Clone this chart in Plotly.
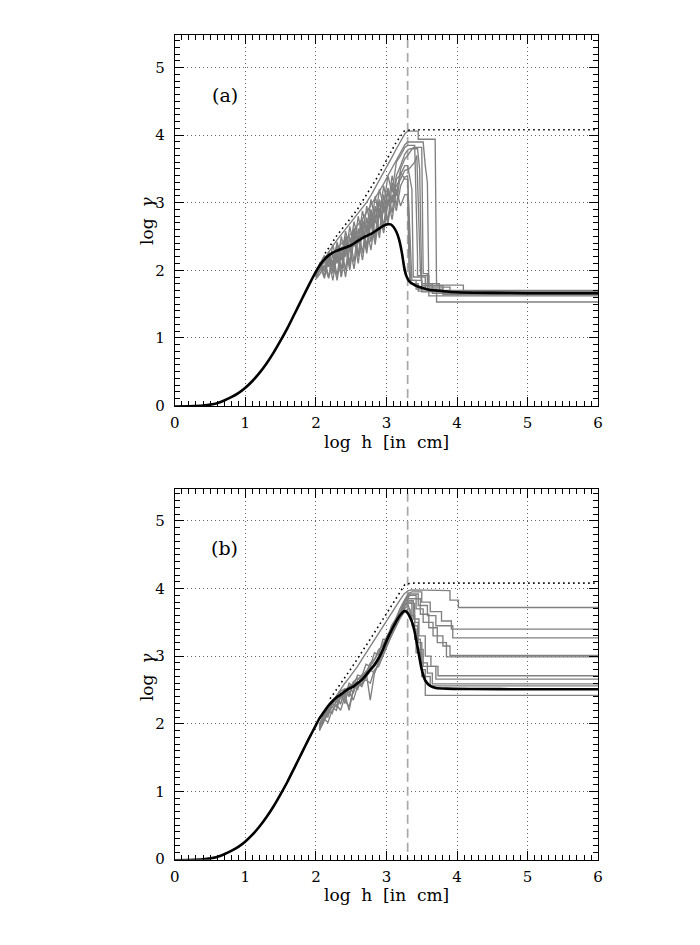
import plotly.graph_objects as go

# ---------------- data ----------------
# common low part of the thick black curve (both panels)
x_low = [0.0, 0.2, 0.4, 0.6, 0.7, 0.8, 0.9, 1.0, 1.1, 1.2, 1.3, 1.4, 1.5, 1.6, 1.7, 1.8, 1.9]
y_low = [-0.02, -0.015, -0.005, 0.03, 0.07, 0.12, 0.18, 0.26, 0.36, 0.48, 0.62, 0.78, 0.96, 1.15, 1.36, 1.57, 1.78]

# panel (a) black curve (continuation)
xa_black = [2.0, 2.06, 2.12, 2.18, 2.24, 2.30, 2.40, 2.50, 2.60, 2.70, 2.80, 2.90, 2.96, 3.02, 3.06, 3.10,
            3.14, 3.18, 3.22, 3.25, 3.28, 3.32, 3.40, 3.50, 3.60, 3.80, 4.00, 4.50, 5.00, 6.00]
ya_black = [1.98, 2.08, 2.16, 2.22, 2.26, 2.29, 2.33, 2.37, 2.44, 2.50, 2.55, 2.62, 2.66, 2.68, 2.68, 2.64,
            2.57, 2.45, 2.25, 2.05, 1.92, 1.84, 1.78, 1.74, 1.71, 1.69, 1.675, 1.665, 1.66, 1.66]

# panel (b) black curve (continuation)
xb_black = [2.0, 2.05, 2.11, 2.17, 2.23, 2.29, 2.35, 2.41, 2.47, 2.53, 2.59, 2.65, 2.71, 2.77, 2.83, 2.89,
            2.95, 3.01, 3.07, 3.13, 3.19, 3.23, 3.26, 3.30, 3.34, 3.38, 3.42, 3.46, 3.50, 3.55, 3.62, 3.70,
            3.85, 4.2, 5.0, 6.0]
yb_black = [1.98, 2.08, 2.17, 2.26, 2.33, 2.39, 2.43, 2.48, 2.52, 2.55, 2.60, 2.65, 2.72, 2.80, 2.87, 2.97,
            3.10, 3.25, 3.38, 3.50, 3.60, 3.65, 3.67, 3.64, 3.56, 3.45, 3.25, 3.02, 2.80, 2.64, 2.56, 2.53,
            2.52, 2.515, 2.51, 2.51]

# dotted envelopes
xa_env = [2.13, 2.30, 2.58, 2.86, 3.14, 3.25, 3.35, 6.0]
ya_env = [2.25, 2.52, 2.89, 3.36, 3.90, 4.06, 4.08, 4.08]
xb_env = [2.20, 2.50, 2.80, 3.00, 3.14, 3.26, 3.35, 6.0]
yb_env = [2.37, 2.82, 3.30, 3.62, 3.86, 4.06, 4.08, 4.08]

# vertical dashed marker
x_mark = 3.3

# panel (a) gray runs: rising part on common grid + tail (x, y) points
xa_rise = [2.00, 2.06, 2.12, 2.18, 2.24, 2.30, 2.36, 2.42, 2.48, 2.54, 2.60, 2.66, 2.72, 2.78, 2.84, 2.90,
           2.96, 3.02, 3.08, 3.14, 3.20, 3.26]
a_rise = [
    [1.98, 2.08, 2.18, 2.27, 2.36, 2.45, 2.53, 2.61, 2.68, 2.76, 2.84, 2.92, 3.01, 3.11, 3.22, 3.33, 3.44, 3.56, 3.68, 3.80, 3.92, 4.02],
    [1.95, 2.05, 2.12, 2.20, 2.26, 2.33, 2.40, 2.46, 2.52, 2.60, 2.68, 2.76, 2.86, 2.96, 3.06, 3.17, 3.28, 3.40, 3.52, 3.64, 3.76, 3.86],
    [1.92, 2.12, 1.98, 2.28, 2.05, 2.42, 2.15, 2.58, 2.30, 2.72, 2.45, 2.88, 2.60, 3.05, 2.75, 3.20, 2.95, 3.40, 3.15, 3.60, 3.70, 3.82],
    [1.90, 2.08, 1.92, 2.20, 1.95, 2.32, 2.02, 2.45, 2.10, 2.60, 2.22, 2.72, 2.35, 2.88, 2.50, 3.02, 2.65, 3.18, 2.85, 3.35, 3.42, 3.55],
    [1.88, 2.00, 2.15, 1.90, 2.25, 1.92, 2.35, 2.00, 2.50, 2.12, 2.62, 2.25, 2.78, 2.42, 2.95, 2.55, 3.12, 2.72, 3.30, 2.95, 3.45, 3.35],
    [1.95, 2.02, 2.15, 2.25, 1.98, 2.38, 1.90, 2.45, 2.05, 2.55, 2.20, 2.65, 2.30, 2.80, 2.45, 2.92, 2.58, 3.05, 2.75, 3.20, 2.95, 3.12],
    [1.90, 2.05, 1.88, 2.15, 1.85, 2.25, 1.90, 2.35, 2.00, 2.48, 2.10, 2.60, 2.25, 2.72, 2.38, 2.85, 2.55, 3.00, 3.05, 3.25, 3.35, 3.48],
    [1.93, 2.10, 2.22, 2.05, 2.38, 2.10, 2.50, 2.20, 2.65, 2.35, 2.80, 2.48, 2.95, 2.62, 3.10, 2.78, 3.25, 2.95, 3.40, 3.10, 3.50, 3.65],
    [1.87, 1.95, 2.08, 1.88, 2.15, 1.85, 2.25, 1.90, 2.35, 2.02, 2.48, 2.15, 2.62, 2.30, 2.78, 2.48, 2.95, 2.68, 3.12, 2.88, 3.25, 3.38],
    [1.96, 2.12, 2.00, 2.25, 2.10, 2.38, 2.20, 2.50, 2.28, 2.62, 2.40, 2.75, 2.55, 2.90, 2.70, 3.05, 2.85, 3.22, 3.00, 3.40, 3.55, 3.72],
]
a_tail_x = [
    [3.30, 3.45, 3.45, 3.69, 3.71, 4.09, 4.09, 6.0],
    [3.30, 3.52, 3.55, 3.58, 3.60, 3.75, 3.75, 6.0],
    [3.30, 3.40, 3.44, 3.44, 3.60, 3.60, 3.90, 3.90, 6.0],
    [3.30, 3.36, 3.38, 3.55, 3.55, 3.71, 3.71, 6.0],
    [3.30, 3.34, 3.36, 3.50, 3.50, 6.0],
    [3.30, 3.32, 3.34, 3.45, 3.45, 6.0],
    [3.32, 3.36, 3.40, 3.43, 3.48, 3.50, 3.65, 3.65, 6.0],
    [3.30, 3.36, 3.38, 3.50, 3.52, 3.58, 3.58, 3.80, 3.80, 6.0],
    [3.30, 3.34, 3.42, 3.42, 3.60, 3.60, 6.0],
    [3.30, 3.34, 3.44, 3.47, 3.50, 3.80, 3.80, 6.0],
]
a_tail_y = [
    [4.06, 4.06, 3.94, 3.94, 1.78, 1.78, 1.67, 1.67],
    [3.90, 3.90, 3.55, 3.30, 1.80, 1.80, 1.70, 1.70],
    [3.85, 3.85, 2.20, 1.92, 1.92, 1.75, 1.75, 1.65, 1.65],
    [3.55, 3.20, 1.90, 1.90, 1.72, 1.72, 1.53, 1.53],
    [3.35, 2.40, 1.85, 1.85, 1.68, 1.68],
    [3.12, 2.00, 1.80, 1.80, 1.69, 1.69],
    [3.50, 3.55, 3.60, 3.70, 2.00, 1.80, 1.80, 1.66, 1.66],
    [3.70, 3.80, 3.82, 3.82, 1.95, 1.95, 1.72, 1.72, 1.64, 1.64],
    [3.40, 1.85, 1.85, 1.72, 1.72, 1.62, 1.62],
    [3.78, 3.80, 3.80, 3.50, 1.77, 1.77, 1.67, 1.67],
]

# panel (b) gray runs
xb_rise = [2.05, 2.11, 2.17, 2.23, 2.29, 2.35, 2.41, 2.47, 2.53, 2.59, 2.65, 2.71, 2.77, 2.83, 2.89, 2.95,
           3.01, 3.07, 3.13, 3.19, 3.25, 3.31]
b_rise = [
    [2.00, 2.12, 2.22, 2.32, 2.42, 2.50, 2.60, 2.68, 2.76, 2.85, 2.95, 3.05, 3.15, 3.25, 3.35, 3.45, 3.55, 3.65, 3.74, 3.83, 3.92, 3.97],
    [1.98, 2.15, 2.10, 2.30, 2.25, 2.45, 2.40, 2.60, 2.55, 2.72, 2.70, 2.88, 2.85, 3.05, 3.02, 3.25, 3.25, 3.45, 3.55, 3.70, 3.82, 3.93],
    [1.95, 2.10, 2.20, 2.15, 2.35, 2.30, 2.50, 2.42, 2.62, 2.55, 2.72, 2.75, 2.90, 2.95, 3.10, 3.15, 3.30, 3.40, 3.55, 3.65, 3.80, 3.90],
    [1.92, 2.05, 2.15, 2.25, 2.20, 2.40, 2.35, 2.25, 2.50, 2.60, 2.55, 2.70, 2.78, 2.90, 2.95, 3.10, 3.20, 3.38, 3.50, 3.62, 3.78, 3.88],
    [1.90, 2.08, 2.02, 2.20, 2.28, 2.20, 2.40, 2.48, 2.35, 2.55, 2.60, 2.65, 2.60, 2.80, 2.85, 3.00, 3.15, 3.30, 3.45, 3.60, 3.72, 3.85],
    [1.95, 2.12, 2.22, 2.30, 2.38, 2.45, 2.30, 2.55, 2.60, 2.50, 2.70, 2.78, 2.85, 2.95, 3.05, 3.18, 3.30, 3.42, 3.55, 3.66, 3.76, 3.82],
    [1.90, 2.02, 2.15, 2.28, 2.40, 2.48, 2.52, 2.40, 2.62, 2.68, 2.62, 2.78, 2.35, 2.75, 2.90, 3.05, 3.20, 3.35, 3.48, 3.62, 3.74, 3.80],
    [1.93, 2.10, 2.20, 2.30, 2.35, 2.42, 2.50, 2.55, 2.45, 2.65, 2.72, 2.68, 2.82, 2.88, 3.00, 3.12, 3.25, 3.35, 3.48, 3.60, 3.70, 3.75],
    [1.96, 2.13, 2.20, 2.30, 2.38, 2.30, 2.45, 2.20, 2.50, 2.58, 2.65, 2.72, 2.80, 2.75, 2.92, 3.05, 3.18, 3.30, 3.42, 3.55, 3.65, 3.70],
    [1.92, 2.06, 2.18, 2.25, 2.32, 2.38, 2.45, 2.52, 2.58, 2.62, 2.58, 2.70, 2.78, 2.85, 2.95, 3.08, 3.22, 3.38, 3.52, 3.64, 3.74, 3.78],
]
b_tail_x = [
    [3.36, 3.90, 3.90, 4.02, 4.02, 6.0],
    [3.36, 3.50, 3.50, 3.62, 3.62, 3.78, 3.78, 3.92, 3.92, 6.0],
    [3.34, 3.45, 3.45, 3.58, 3.58, 3.70, 3.70, 3.94, 3.94, 6.0],
    [3.33, 3.42, 3.42, 3.52, 3.52, 3.66, 3.66, 3.80, 3.80, 3.90, 3.90, 6.0],
    [3.35, 3.48, 3.48, 3.60, 3.60, 3.72, 3.72, 3.85, 3.85, 6.0],
    [3.32, 3.38, 3.38, 3.46, 3.46, 3.55, 3.55, 3.63, 3.63, 3.73, 3.73, 6.0],
    [3.30, 3.36, 3.36, 3.44, 3.44, 3.52, 3.52, 3.70, 3.70, 6.0],
    [3.31, 3.35, 3.40, 3.40, 3.48, 3.48, 3.58, 3.58, 3.65, 3.65, 6.0],
    [3.33, 3.38, 3.42, 3.42, 3.50, 3.50, 3.62, 3.62, 6.0],
    [3.32, 3.40, 3.40, 3.45, 3.45, 3.50, 3.50, 3.55, 3.55, 6.0],
]
b_tail_y = [
    [3.98, 3.97, 3.83, 3.83, 3.72, 3.72],
    [3.95, 3.95, 3.80, 3.80, 3.66, 3.66, 3.52, 3.52, 3.40, 3.40],
    [3.92, 3.92, 3.75, 3.75, 3.60, 3.60, 3.45, 3.45, 3.27, 3.27],
    [3.90, 3.90, 3.70, 3.70, 3.50, 3.50, 3.30, 3.30, 3.15, 3.15, 3.01, 3.01],
    [3.85, 3.85, 3.62, 3.62, 3.42, 3.42, 3.20, 3.20, 2.99, 2.99],
    [3.82, 3.82, 3.55, 3.55, 3.30, 3.30, 3.00, 3.00, 2.85, 2.85, 2.71, 2.71],
    [3.80, 3.80, 3.45, 3.45, 3.10, 3.10, 2.85, 2.85, 2.66, 2.66],
    [3.75, 3.60, 3.60, 3.25, 3.25, 2.90, 2.90, 2.75, 2.75, 2.59, 2.59],
    [3.70, 3.40, 3.40, 3.05, 3.05, 2.70, 2.70, 2.56, 2.56],
    [3.78, 3.78, 3.50, 3.50, 3.20, 3.20, 2.80, 2.80, 2.42, 2.42],
]

x_ticks = [0, 1, 2, 3, 4, 5, 6]
y_ticks = [0, 1, 2, 3, 4, 5]
x_title = "log&nbsp; h&nbsp; [in&nbsp; cm]"
y_title = "log&nbsp; <i>γ</i>"
panel_labels = ["(a)", "(b)"]

# ---------------- figure ----------------
FONT = "DejaVu Serif"
GRAY = "#808080"
fig = go.Figure()

panels = [
    ("x", "y", xa_rise, a_rise, a_tail_x, a_tail_y, xa_black, ya_black, xa_env, ya_env),
    ("x2", "y2", xb_rise, b_rise, b_tail_x, b_tail_y, xb_black, yb_black, xb_env, yb_env),
]
for xa, ya, xr, rises, tx, ty, xbk, ybk, xe, ye in panels:
    fig.add_trace(go.Scatter(x=[x_mark, x_mark], y=[-0.1, 5.6], mode="lines",
                             line=dict(color="#a8a8a8", width=1.7, dash="9px,5px"),
                             xaxis=xa, yaxis=ya, showlegend=False, hoverinfo="skip"))
    for r, px_, py_ in zip(rises, tx, ty):
        fig.add_trace(go.Scatter(x=xr + px_, y=r + py_, mode="lines",
                                 line=dict(color=GRAY, width=1.35),
                                 xaxis=xa, yaxis=ya, showlegend=False))
    fig.add_trace(go.Scatter(x=x_low + xbk, y=y_low + ybk, mode="lines",
                             line=dict(color="black", width=2.6, shape="spline", smoothing=0.5),
                             xaxis=xa, yaxis=ya, showlegend=False))
    fig.add_trace(go.Scatter(x=xe, y=ye, mode="lines",
                             line=dict(color="black", width=1.6, dash="1.6px,3.4px"),
                             xaxis=xa, yaxis=ya, showlegend=False))

FS_TICK = 15


def xaxis(domain, anchor):
    return dict(domain=domain, anchor=anchor, range=[0, 6], tickvals=x_ticks,
                ticktext=[str(v) for v in x_ticks],
                showline=True, linecolor="black", linewidth=1, mirror="allticks",
                ticks="inside", ticklen=9, tickwidth=1, tickcolor="black",
                minor=dict(ticks="inside", ticklen=5, dtick=0.1, tick0=0, tickcolor="black", tickwidth=1),
                showgrid=True, gridcolor="#666666", griddash="1px,3px", gridwidth=1,
                zeroline=False, ticklabelstandoff=3,
                tickfont=dict(family=FONT, size=FS_TICK, color="black"))


def yaxis(domain, anchor):
    return dict(domain=domain, anchor=anchor, range=[-0.01, 5.48], tickvals=y_ticks,
                ticktext=[str(v) for v in y_ticks],
                showline=True, linecolor="black", linewidth=1, mirror="allticks",
                ticks="inside", ticklen=9, tickwidth=1, tickcolor="black",
                minor=dict(ticks="inside", ticklen=5, dtick=0.1, tick0=0, tickcolor="black", tickwidth=1),
                showgrid=True, gridcolor="#666666", griddash="1px,3px", gridwidth=1,
                zeroline=False, ticklabelstandoff=6,
                tickfont=dict(family=FONT, size=FS_TICK, color="black"))


W, H = 700, 945


# target page pixel -> figure pixel (compensates the observed page scaling)
def fx(p):
    return (p - 5.3) / 0.985


def fy(p):
    return (p + 0.97) / 0.990


def px(p):
    return fx(p) / W


def py(p):
    return (H - fy(p)) / H


fig.update_layout(
    width=W, height=H, autosize=False,
    margin=dict(l=0, r=0, t=0, b=0),
    paper_bgcolor="white", plot_bgcolor="white",
    xaxis=xaxis([px(175), px(598)], "y"),
    yaxis=yaxis([py(404.8), py(34.3)], "x"),
    xaxis2=xaxis([px(175), px(598)], "y2"),
    yaxis2=yaxis([py(858.3), py(487.3)], "x2"),
)

ann = []
for (xr_, yr_, lbl) in [("x", "y", panel_labels[0]), ("x2", "y2", panel_labels[1])]:
    ann.append(dict(x=0.71, y=4.6, xref=xr_, yref=yr_, text=lbl, showarrow=False,
                    xanchor="center", yanchor="middle",
                    font=dict(family=FONT, size=19, color="black")))
for yc in [441, 894]:
    ann.append(dict(x=px(386.5), y=py(yc), xref="paper", yref="paper", text=x_title,
                    showarrow=False, xanchor="center", yanchor="middle",
                    font=dict(family=FONT, size=17, color="black")))
for yc in [220, 676]:
    ann.append(dict(x=px(147), y=py(yc), xref="paper", yref="paper", text=y_title,
                    showarrow=False, textangle=-90, xanchor="center", yanchor="middle",
                    font=dict(family=FONT, size=17, color="black")))
fig.update_layout(annotations=ann)

fig.write_html("out.html", config={"displayModeBar": False},
               post_script="document.body.style.margin='0';document.body.style.overflow='hidden';")
